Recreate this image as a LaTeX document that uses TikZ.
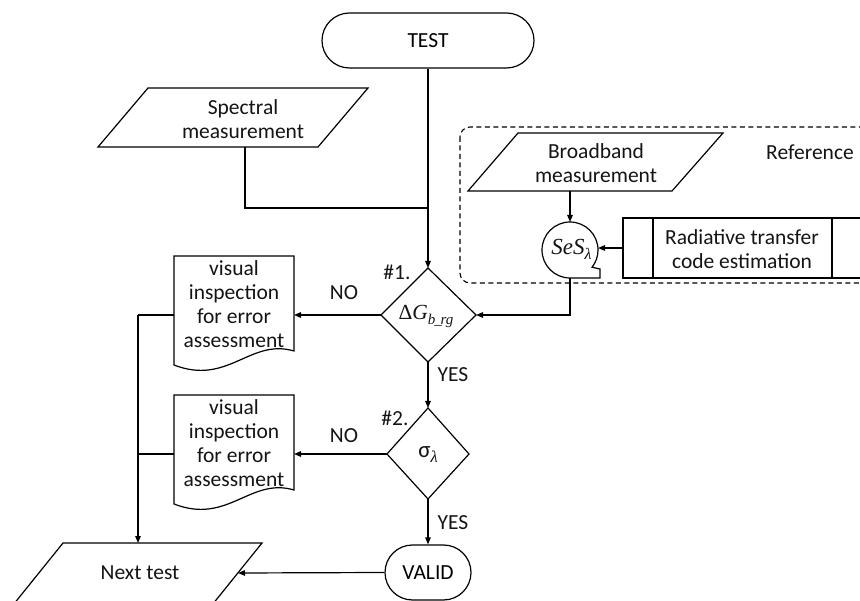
\documentclass[tikz,border=0pt]{standalone}
\usepackage{fontspec}
\setmainfont{Carlito}
\newfontfamily\symfont{Liberation Serif}
\usetikzlibrary{arrows.meta,shapes.misc}

% subscript set in the serif italic face
\newcommand{\symsub}[2][15]{\raisebox{-5pt}{\fontsize{#1}{#1}\selectfont\symfont\itshape #2}}

\tikzset{
  flow/.style={line width=1.2pt, draw=black},
  arr/.style={flow, -{Triangle[length=7pt,width=5.5pt]}},
  term/.style={flow, rounded rectangle, minimum height=55pt, inner sep=0pt},
  txt/.style={align=center, inner sep=0pt, text=black!92},
  lbl/.style={inner sep=0pt, text=black!92},
  refbox/.style={line width=1.1pt, dash pattern=on 5pt off 3.5pt, rounded corners=10pt},
}

\begin{document}
\begin{tikzpicture}[x=1pt, y=-1pt, font=\fontsize{21.5}{24}\selectfont]
\useasboundingbox (0,0) rectangle (860,601);
\clip (0,0) rectangle (860,601);

% start / end terminators
\node[term, minimum width=212pt] (test) at (428,40.5) {TEST};
\node[term, minimum width=86pt] (valid) at (428,572.5) {VALID};

% spectral measurement input
\draw[flow] (148,88) -- (368,88) -- (318,147) -- (98,147) -- cycle;
\node[txt] (spec) at (243,119) {Spectral\\measurement};
\coordinate (spec-s) at (245,147);
\coordinate (join) at (428,208);

% reference group
\draw[refbox] (460,127) rectangle (900,283);
\node[lbl] (reflbl) at (810,152) {Reference};

\draw[flow] (518,133) -- (723,133) -- (672,191) -- (468,191) -- cycle;
\node[txt] (broad) at (596,163) {Broadband\\measurement};
\coordinate (broad-s) at (570,191);

% sequential storage symbol
\draw[flow] (570,278) arc[start angle=90, end angle=398, radius=28]
  -- (600,269) -- (600,278) -- cycle;
\node[lbl] (ses) at (571.5,249) {\fontsize{23}{23}\selectfont\symfont\itshape SeS\symsub[16]{λ}};
\coordinate (ses-n) at (570,222);
\coordinate (ses-e) at (598,248);
\coordinate (ses-s) at (570,278);

% predefined process
\draw[flow] (623,218) rectangle (900,278);
\draw[flow] (653,218) -- (653,278);
\draw[flow] (832,218) -- (832,278);
\node[txt] (rtc) at (742,249) {Radiative transfer\\code estimation};
\coordinate (rtc-w) at (623,248);

% decision #1
\coordinate (d1n) at (428,268);
\coordinate (d1e) at (476,315);
\coordinate (d1s) at (428,362);
\coordinate (d1w) at (381,315);
\draw[flow] (d1n) -- (d1e) -- (d1s) -- (d1w) -- cycle;
\node[lbl] (d1) at (426,316) {\symfont Δ{\itshape G}\symsub{b\kern-1.2pt\_\kern-1.2pt rg}};
\node[lbl] (h1) at (397,272) {\#1.};

% decision #2
\coordinate (d2n) at (428,408);
\coordinate (d2e) at (469,454);
\coordinate (d2s) at (428,499);
\coordinate (d2w) at (387,454);
\draw[flow] (d2n) -- (d2e) -- (d2s) -- (d2w) -- cycle;
\node[lbl] (d2) at (428,455) {\fontsize{23}{23}\selectfont σ\symsub[16.5]{λ}};
\node[lbl] (h2) at (395,418) {\#2.};

% documents
\draw[flow] (174,256) -- (294,256) -- (294,351)
  .. controls (250,338) and (228,386) .. (174,365) -- cycle;
\node[txt] (doc1) at (234,304) {visual\\inspection\\for error\\assessment};
\coordinate (doc1-e) at (294,315);
\coordinate (doc1-w) at (174,315);

\draw[flow] (174,395) -- (294,395) -- (294,490)
  .. controls (250,477) and (228,525) .. (174,504) -- cycle;
\node[txt] (doc2) at (234,443) {visual\\inspection\\for error\\assessment};
\coordinate (doc2-e) at (294,454);
\coordinate (doc2-w) at (174,454);

% next test output
\draw[flow] (63,543) -- (262,543) -- (200,620) -- (1,620) -- cycle;
\node[txt] (next) at (140,573) {Next test};
\coordinate (next-n) at (138,543);
\coordinate (next-e) at (238,573);
\coordinate (c1) at (138,315);
\coordinate (c2) at (138,454);

% connectors
\draw[flow] (spec-s) |- (join);
\draw[arr] (test.south) -- (d1n);
\draw[arr] (broad-s) -- (ses-n);
\draw[arr] (rtc-w) -- (ses-e);
\draw[arr] (ses-s) |- (d1e);
\draw[arr] (d1w) -- (doc1-e);
\draw[arr] (d1s) -- (d2n);
\draw[arr] (d2w) -- (doc2-e);
\draw[arr] (d2s) -- (valid.north);
\draw[arr] (valid.west) -- (next-e);
\draw[flow] (doc1-w) -- (c1);
\draw[flow] (doc2-w) -- (c2);
\draw[arr] (c1) -- (next-n);

% branch labels
\node[lbl] (no1) at (344,293) {NO};
\node[lbl] (no2) at (344,436) {NO};
\node[lbl] (yes1) at (453,375) {YES};
\node[lbl] (yes2) at (453,523) {YES};
\end{tikzpicture}
\end{document}
